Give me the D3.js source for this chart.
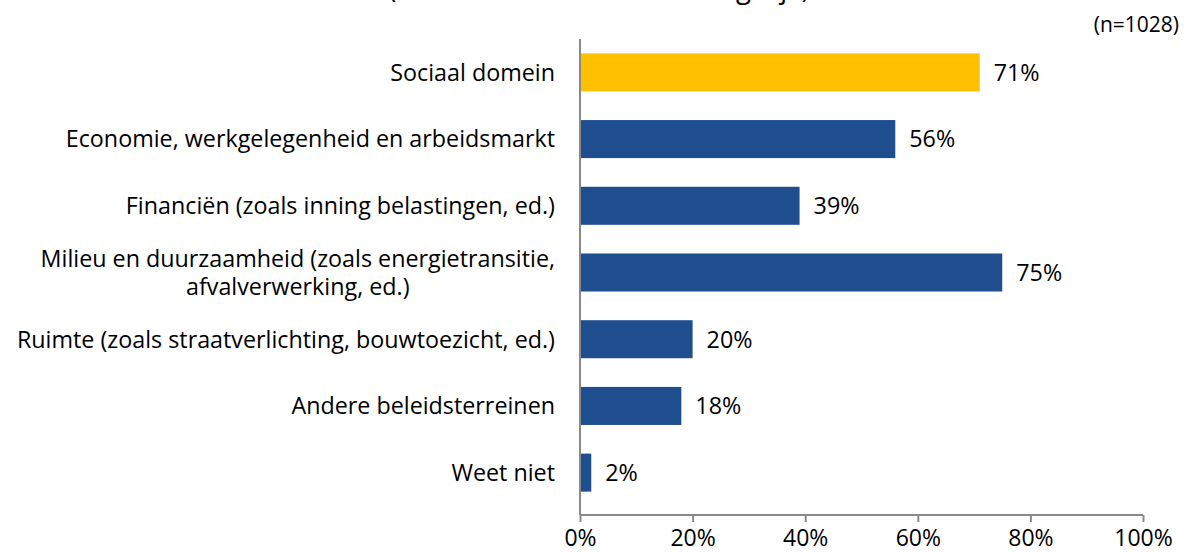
<!DOCTYPE html>
<html>
<head>
<meta charset="utf-8">
<script src="https://cdn.jsdelivr.net/npm/d3@7"></script>
<style>
  body { margin: 0; background: #fff; }
  text { font-family: "Open Sans", sans-serif; fill: #000; }
</style>
</head>
<body>
<div id="chart-area"></div>
<script>
let width = 1191,
    height = 552;

// data
let categories = [
  ["Sociaal domein"],
  ["Economie, werkgelegenheid en arbeidsmarkt"],
  ["Financiën (zoals inning belastingen, ed.)"],
  ["Milieu en duurzaamheid (zoals energietransitie,", "afvalverwerking, ed.)"],
  ["Ruimte (zoals straatverlichting, bouwtoezicht, ed.)"],
  ["Andere beleidsterreinen"],
  ["Weet niet"]
];
let values = [71, 56, 39, 75, 20, 18, 2];
let highlight = [true, false, false, false, false, false, false];
let tickValues = [0, 20, 40, 60, 80, 100];

let fontSize = "23.3px";

let svg = d3.select("#chart-area").append("svg")
  .attr("width", width)
  .attr("height", height);

let x = d3.scaleLinear().domain([0, 100]).range([580, 1143]);
let y = d3.scaleBand()
  .domain(d3.range(categories.length))
  .range([39, 506])
  .paddingInner(0.43)
  .paddingOuter(0.215);

let axisBottom = 515;
let labelRight = 555;

// title, cut off at the top edge in the original
svg.append("text")
  .attr("x", 599)
  .attr("y", -2)
  .attr("text-anchor", "middle")
  .style("font-size", "27.5px")
  .text("(meerdere antwoorden mogelijk)");

svg.append("text")
  .attr("x", 1179)
  .attr("y", 32)
  .attr("text-anchor", "end")
  .style("font-size", "21px")
  .text("(n=1028)");

// bars
svg.selectAll(".bar")
  .data(values)
  .enter().append("rect")
  .attr("class", "bar")
  .attr("x", x(0))
  .attr("y", (d, i) => y(i))
  .attr("width", d => x(d) - x(0))
  .attr("height", y.bandwidth())
  .attr("fill", (d, i) => highlight[i] ? "#FFC000" : "#1F4E8F");

// value labels
svg.selectAll(".val")
  .data(values)
  .enter().append("text")
  .attr("class", "val")
  .attr("x", d => x(d) + 14)
  .attr("y", (d, i) => y(i) + y.bandwidth() / 2)
  .attr("dy", "0.36em")
  .style("font-size", fontSize)
  .text(d => d + "%");

// category labels (wrapped ones are centred on their widest line)
let lab = svg.selectAll(".cat")
  .data(categories)
  .enter().append("text")
  .attr("class", "cat")
  .style("font-size", fontSize);

lab.each(function(lines, i) {
  let t = d3.select(this);
  let cy = y(i) + y.bandwidth() / 2;
  let spans = lines.map((line, j) => t.append("tspan")
    .attr("y", cy + (j - (lines.length - 1) / 2) * 28)
    .attr("dy", "0.36em")
    .text(line));
  if (lines.length === 1) {
    t.attr("text-anchor", "end");
    spans[0].attr("x", labelRight);
  } else {
    let w = d3.max(spans, s => s.node().getComputedTextLength());
    t.attr("text-anchor", "middle");
    spans.forEach(s => s.attr("x", labelRight - w / 2));
  }
});

// axes
let axisColor = "#898989";
svg.append("line")
  .attr("x1", x(0)).attr("x2", x(0))
  .attr("y1", 39).attr("y2", axisBottom)
  .attr("stroke", axisColor).attr("stroke-width", 2);

svg.append("line")
  .attr("x1", x(0)).attr("x2", x(100))
  .attr("y1", axisBottom).attr("y2", axisBottom)
  .attr("stroke", axisColor).attr("stroke-width", 2);

let xAxis = svg.append("g")
  .attr("transform", "translate(0," + axisBottom + ")")
  .call(d3.axisBottom(x).tickValues(tickValues).tickSize(7).tickPadding(8)
    .tickFormat(d => d + "%"));
xAxis.select(".domain").remove();
xAxis.selectAll(".tick line").attr("stroke", axisColor).attr("stroke-width", 2);
xAxis.selectAll(".tick text")
  .style("font-size", "23px")
  .style("font-family", "'Open Sans', sans-serif")
  .attr("fill", "#000");
</script>
</body>
</html>
